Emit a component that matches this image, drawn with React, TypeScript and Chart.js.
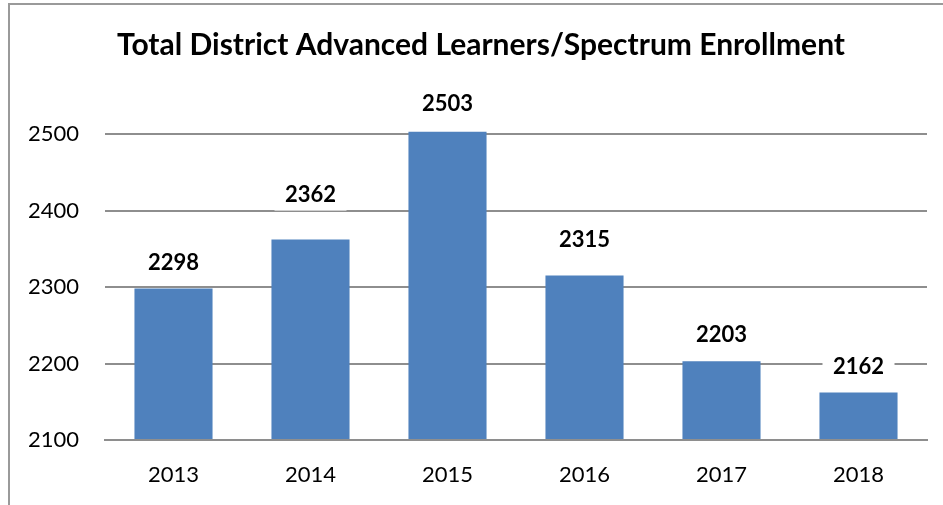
import React, { useEffect, useRef } from "react";
import { Chart, registerables } from "chart.js";

Chart.register(...registerables);

const titleText = "Total District Advanced Learners/Spectrum Enrollment";
const years = ["2013", "2014", "2015", "2016", "2017", "2018"];
const enrollment = [2298, 2362, 2503, 2315, 2203, 2162];
const yMin = 2100;
const yMax = 2500;
const yStep = 100;

const FONT = "Lato";
const labelLift = [27, 46, 29, 37, 27, 27];

const framePlugin = {
  id: "frame",
  beforeDraw(chart: any) {
    const ctx = chart.ctx;
    ctx.save();
    ctx.fillStyle = "#ffffff";
    ctx.fillRect(0, 0, chart.width, chart.height);
    ctx.strokeStyle = "#9a9a9a";
    ctx.lineWidth = 2;
    ctx.beginPath();
    ctx.moveTo(9, chart.height + 5);
    ctx.lineTo(9, 4);
    ctx.lineTo(chart.width + 5, 4);
    ctx.stroke();
    ctx.restore();
  },
  afterDraw(chart: any) {
    const ctx = chart.ctx;
    ctx.save();
    ctx.font = `bold 30px ${FONT}`;
    ctx.fillStyle = "#000000";
    ctx.textAlign = "center";
    ctx.textBaseline = "middle";
    ctx.fillText(titleText, 481, 45);
    ctx.restore();
  },
};

const valueLabels = {
  id: "valueLabels",
  afterDatasetsDraw(chart: any) {
    const ctx = chart.ctx;
    const meta = chart.getDatasetMeta(0);
    const data = chart.data.datasets[0].data;
    ctx.save();
    ctx.font = `bold 22px ${FONT}`;
    ctx.textAlign = "center";
    ctx.textBaseline = "middle";
    meta.data.forEach((bar: any, i: number) => {
      const x = bar.x;
      const y = bar.y - labelLift[i];
      ctx.fillStyle = "#ffffff";
      ctx.fillRect(x - 36, y - 17, 72, 34);
      ctx.fillStyle = "#000000";
      ctx.fillText(String(data[i]), x, y + 1);
    });
    ctx.restore();
  },
};

export default function App() {
  const ref = useRef<HTMLCanvasElement>(null);
  useEffect(() => {
    if (!ref.current) return;
    const chart = new Chart(ref.current, {
      type: "bar",
      data: {
        labels: years,
        datasets: [
          {
            data: enrollment,
            backgroundColor: "#4F81BD",
            borderWidth: 0,
            barPercentage: 0.57,
            categoryPercentage: 1,
            base: yMin,
            clip: false as any,
          } as any,
        ],
      },
      options: {
        animation: false,
        responsive: false,
        layout: { padding: { left: 0, right: 16, top: 134, bottom: 0 } },
        plugins: {
          legend: { display: false },
          tooltip: { enabled: false },
          title: { display: false },
        },
        scales: {
          x: {
            grid: { display: false },
            border: { display: true, color: "#8e8e8e", width: 2 },
            ticks: {
              color: "#000000",
              font: { family: FONT, size: 22 },
              padding: 14,
            },
            afterFit(scale: any) {
              scale.height = 65;
            },
          },
          y: {
            min: yMin,
            max: yMax,
            grid: { color: "#8e8e8e", lineWidth: 2, drawTicks: false },
            border: { display: false },
            ticks: {
              stepSize: yStep,
              color: "#000000",
              font: { family: FONT, size: 22 },
              padding: 26,
              callback: (v: any) => String(v),
            },
            afterFit(scale: any) {
              scale.width = 105;
            },
          },
        },
      },
      plugins: [framePlugin, valueLabels],
    });
    return () => chart.destroy();
  }, []);
  return (
    <div style={{ position: "absolute", left: 0, top: 0, width: 943, height: 505, overflow: "hidden", background: "#fff" }}>
      <canvas ref={ref} width={943} height={505} style={{ display: "block" }} />
    </div>
  );
}
